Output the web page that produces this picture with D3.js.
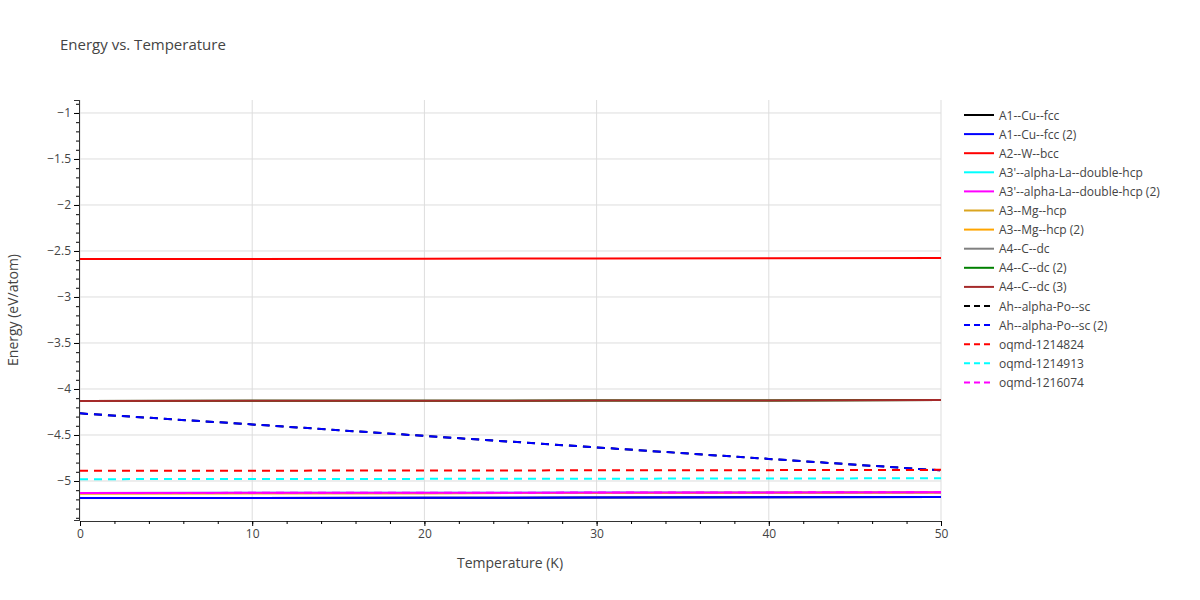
<!DOCTYPE html><html><head><script src="https://cdn.jsdelivr.net/npm/d3@7"></script>
<style>body{margin:0;font-family:"Open Sans",sans-serif}</style></head><body><svg id="c" width="1200" height="600"></svg>
<script>
const temps=[0,10,20,30,40,50];
const names=["A1--Cu--fcc","A1--Cu--fcc (2)","A2--W--bcc","A3'--alpha-La--double-hcp","A3'--alpha-La--double-hcp (2)","A3--Mg--hcp","A3--Mg--hcp (2)","A4--C--dc","A4--C--dc (2)","A4--C--dc (3)","Ah--alpha-Po--sc","Ah--alpha-Po--sc (2)","oqmd-1214824","oqmd-1214913","oqmd-1216074"];
const colors=["black","blue","red","cyan","magenta","goldenrod","orange","gray","green","brown","black","blue","red","cyan","magenta"];
const dashed=[0,0,0,0,0,0,0,0,0,0,1,1,1,1,1];
const values=[
[-5.185,-5.184,-5.182,-5.180,-5.178,-5.175],
[-5.185,-5.184,-5.182,-5.180,-5.178,-5.175],
[-2.587,-2.586,-2.584,-2.582,-2.579,-2.576],
[-5.13,-5.129,-5.128,-5.126,-5.124,-5.122],
[-5.13,-5.129,-5.128,-5.126,-5.124,-5.122],
[-5.135,-5.134,-5.132,-5.130,-5.128,-5.126],
[-5.135,-5.134,-5.132,-5.130,-5.128,-5.126],
[-4.13,-4.129,-4.128,-4.126,-4.124,-4.121],
[-4.13,-4.129,-4.128,-4.126,-4.124,-4.121],
[-4.13,-4.129,-4.128,-4.126,-4.124,-4.121],
[-4.265,-4.385,-4.51,-4.635,-4.76,-4.885],
[-4.265,-4.385,-4.51,-4.635,-4.76,-4.885],
[-4.89,-4.888,-4.886,-4.884,-4.882,-4.879],
[-4.98,-4.979,-4.977,-4.975,-4.973,-4.97],
[-5.13,-5.129,-5.128,-5.126,-5.124,-5.122]];
const drawOrder=[2,7,8,9,0,1,3,5,6,4,10,11,12,13,14];
const svg=d3.select("#c");
const x=d3.scaleLinear().domain([0,50]).range([80,941]);
const y=d3.scaleLinear().domain([-5.424,-0.859]).range([520,100]);
svg.append("text").attr("x",60).attr("y",50).attr("font-size",15).attr("fill","#444").text("Energy vs. Temperature");
svg.append("g").selectAll("line").data(x.ticks(5)).join("line").attr("x1",d=>x(d)).attr("x2",d=>x(d)).attr("y1",100).attr("y2",520).attr("stroke","#ddd");
const yt=[-5,-4.5,-4,-3.5,-3,-2.5,-2,-1.5,-1];
svg.append("g").selectAll("line").data(yt).join("line").attr("x1",80).attr("x2",941).attr("y1",d=>y(d)).attr("y2",d=>y(d)).attr("stroke","#ddd");
const fmt=d=>String(d).replace("-","\u2212");
const ya=svg.append("g").attr("transform","translate(79,0)").call(d3.axisLeft(y).tickValues(yt).tickFormat(fmt).tickSize(5));
svg.append("g").attr("transform","translate(79,0)").call(d3.axisLeft(y).tickValues(d3.range(-5.4,-0.85,0.1)).tickFormat("").tickSize(3));
const xa=svg.append("g").attr("transform","translate(0,521)").call(d3.axisBottom(x).ticks(5).tickSize(5));
svg.append("g").attr("transform","translate(0,521)").call(d3.axisBottom(x).tickValues(d3.range(0,51,2)).tickFormat("").tickSize(3));
svg.selectAll(".domain").attr("stroke","#333");
svg.selectAll(".tick text").attr("font-size",12).attr("fill","#444").attr("font-family","Open Sans");
svg.append("text").attr("x",510).attr("y",568).attr("text-anchor","middle").attr("font-size",14).attr("fill","#444").text("Temperature (K)");
svg.append("text").attr("transform","translate(18,310) rotate(-90)").attr("text-anchor","middle").attr("font-size",14).attr("fill","#444").text("Energy (eV/atom)");
const line=d3.line().x((d,i)=>x(temps[i])).y(d=>y(d));
drawOrder.forEach(i=>svg.append("path").attr("d",line(values[i])).attr("fill","none").attr("stroke",colors[i]).attr("stroke-width",2).attr("stroke-dasharray",dashed[i]?"8,6":null));
names.forEach((n,i)=>{const g=svg.append("g").attr("transform",`translate(964,${115+i*19.1})`);
g.append("line").attr("x1",0).attr("x2",30).attr("stroke",colors[i]).attr("stroke-width",2).attr("stroke-dasharray",dashed[i]?"6,4":null);
g.append("text").attr("x",35).attr("y",4.5).attr("font-size",12).attr("fill","#444").text(n);});
</script></body></html>
